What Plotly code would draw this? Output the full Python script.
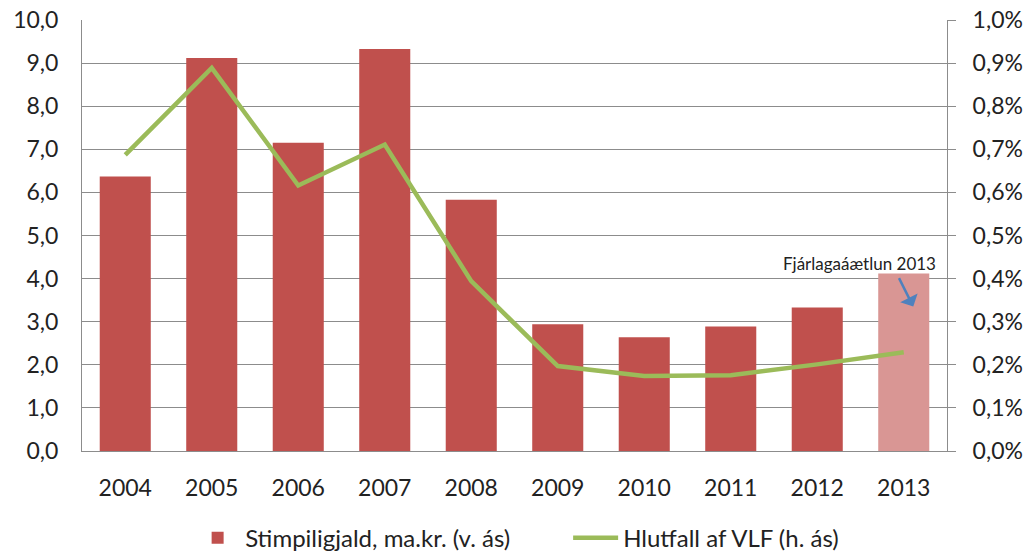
import plotly.graph_objects as go

# data
years = ["2004", "2005", "2006", "2007", "2008", "2009", "2010", "2011", "2012", "2013"]
stamp_duty = [6.37, 9.12, 7.15, 9.33, 5.83, 2.94, 2.64, 2.89, 3.33, 4.12]   # ma.kr.
share_gdp = [0.687, 0.889, 0.616, 0.711, 0.394, 0.197, 0.174, 0.176, 0.201, 0.229]  # %

bar_colors = ["#C0504D"] * 9 + ["#D99694"]
font = "Lato, 'Open Sans', sans-serif"
grid = "#8C8C8C"

bars = go.Bar(x=years, y=stamp_duty, name="Stimpiligjald, ma.kr. (v. ás)",
              marker=dict(color=bar_colors, line=dict(width=0)))
line = go.Scatter(x=years, y=[v / 100 for v in share_gdp], name="Hlutfall af VLF (h. ás)",
                  mode="lines", yaxis="y2", line=dict(color="#9BBB59", width=4.5))

fig = go.Figure(data=[bars, line])
fig.update_layout(
    width=1027, height=558,
    margin=dict(l=82, r=80, t=20, b=107, autoexpand=False),
    paper_bgcolor="white", plot_bgcolor="white",
    separators=", ",
    font=dict(family=font, size=23, color="#222222"),
    bargap=0.41,
    showlegend=True,
    legend=dict(orientation="h", x=0.125, xanchor="left", y=-0.15, yanchor="top",
                font=dict(size=24), itemwidth=45, tracegroupgap=0,
                entrywidth=318, entrywidthmode="pixels"),
    xaxis=dict(type="category", showline=True, linecolor=grid, linewidth=1,
               ticks="", showgrid=False, ticklabelstandoff=16, automargin=False),
    yaxis=dict(range=[0, 10], dtick=1, tickformat=".1f", showgrid=True, gridcolor=grid,
               gridwidth=1, showline=True, linecolor=grid, zeroline=False, ticks="",
               ticklabelstandoff=18, automargin=False),
    yaxis2=dict(range=[0, 0.01], dtick=0.001, tickformat=".1%", overlaying="y", side="right",
                showgrid=False, showline=True, linecolor=grid, zeroline=False,
                ticks="outside", ticklen=8, tickcolor=grid, ticklabelstandoff=12,
                automargin=False),
)

fig.add_annotation(x=8.49, y=4.36, xref="x", yref="y", text="Fjárlagaáætlun 2013",
                   showarrow=False, font=dict(size=17, color="#222222"))
fig.add_annotation(x=9.11, y=3.35, xref="x", yref="y", text="", showarrow=True,
                   ax=-15, ay=-30, arrowhead=1, arrowsize=1.3, arrowwidth=2.5,
                   arrowcolor="#4F81BD")

# drop the default page margin so the figure sits at the window's corner
fig.write_html("out.html", config={"displayModeBar": False},
               post_script="document.body.style.margin='0';")
